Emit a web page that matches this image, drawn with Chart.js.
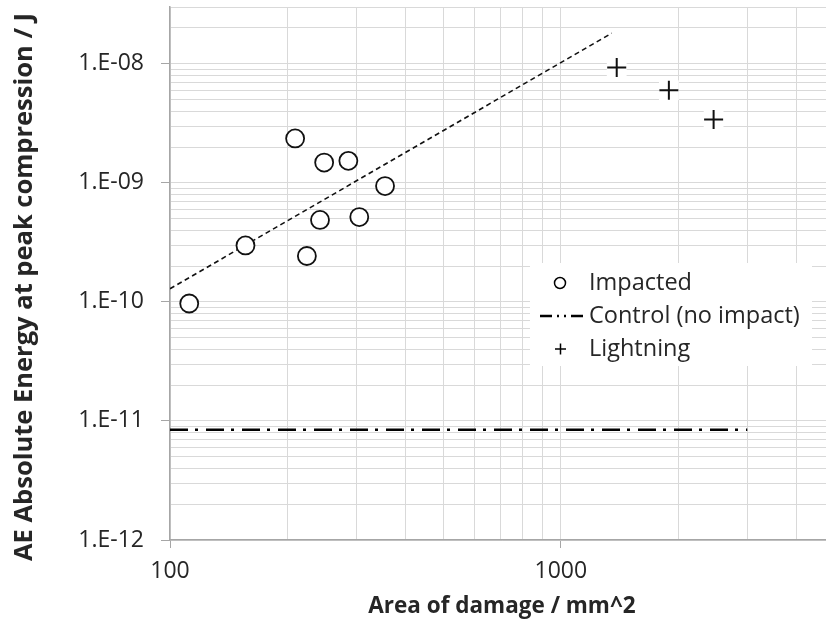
<!DOCTYPE html>
<html>
<head>
<meta charset="utf-8">
<script src="https://cdn.jsdelivr.net/npm/chart.js@4.4.1/dist/chart.umd.min.js"></script>
<style>
    html, body { margin: 0; padding: 0; background: #fff; overflow: hidden; }
    #wrap { width: 840px; height: 630px; }
</style>
</head>
<body>
<div id="wrap"><canvas id="aeChart"></canvas></div>
<script>
// Impacted samples
const impactedArea = [112, 156, 209, 224, 242, 248, 286, 305, 355];
const impactedEnergy = [9.7e-11, 2.98e-10, 2.36e-9, 2.43e-10, 4.88e-10, 1.48e-9, 1.53e-9, 5.16e-10, 9.4e-10];

// Lightning samples
const lightningArea = [1390, 1890, 2460];
const lightningEnergy = [9.3e-9, 6.0e-9, 3.4e-9];

// Control (no impact) level, drawn across 100..3000
const controlArea = [100, 3000];
const controlEnergy = [8.44e-12, 8.44e-12];

// Power trend line end points (impacted)
const trendArea = [100, 1350];
const trendEnergy = [1.29e-10, 1.81e-8];

const xRange = [100, 5000];
const yRange = [1e-12, 3e-8];

const FONT = '"Open Sans", "Liberation Sans", sans-serif';
const TEXT = '#262626';
const GRID = '#d9d9d9';
const AXIS = '#a6a6a6';

function pts(xs, ys) {
    return xs.map((x, i) => ({ x: x, y: ys[i] }));
}

function isDecade(v) {
    const l = Math.log10(v);
    return Math.abs(l - Math.round(l)) < 1e-9;
}

// ticks at 1..9 x 10^n, like Excel minor gridlines
function logTicks(min, max) {
    const out = [];
    for (let e = Math.floor(Math.log10(min)); e <= Math.ceil(Math.log10(max)); e++) {
        for (let k = 1; k <= 9; k++) {
            const v = parseFloat((k * Math.pow(10, e)).toPrecision(6));
            if (v >= min * 0.9999 && v <= max * 1.0001) out.push({ value: v, major: k === 1 });
        }
    }
    return out;
}

const legendPlugin = {
    id: 'boxLegend',
    afterDraw(chart) {
        const ctx = chart.ctx;
        const items = [
            { label: 'Impacted', type: 'circle' },
            { label: 'Control (no impact)', type: 'line' },
            { label: 'Lightning', type: 'cross' }
        ];
        ctx.save();
        ctx.fillStyle = '#fff';
        ctx.fillRect(530, 263, 282, 103);
        ctx.font = '23.5px ' + FONT;
        ctx.fillStyle = TEXT;
        ctx.textBaseline = 'middle';
        ctx.textAlign = 'left';
        items.forEach((it, i) => {
            const y = 283 + i * 33;
            ctx.strokeStyle = '#000';
            ctx.lineWidth = 1.5;
            if (it.type === 'circle') {
                ctx.beginPath();
                ctx.arc(560, y, 5.5, 0, Math.PI * 2);
                ctx.stroke();
            } else if (it.type === 'cross') {
                ctx.beginPath();
                ctx.moveTo(555, y); ctx.lineTo(566, y);
                ctx.moveTo(560.5, y - 5.5); ctx.lineTo(560.5, y + 5.5);
                ctx.stroke();
            } else {
                ctx.lineWidth = 2.5;
                ctx.setLineDash([12, 5, 2, 5, 2, 5]);
                ctx.beginPath();
                ctx.moveTo(540, y); ctx.lineTo(585, y);
                ctx.stroke();
                ctx.setLineDash([]);
            }
            ctx.fillText(it.label, 589, y);
        });
        ctx.restore();
    }
};

const yTitlePlugin = {
    id: 'yTitle',
    afterDraw(chart) {
        const ctx = chart.ctx;
        ctx.save();
        ctx.translate(25, 287);
        ctx.rotate(-Math.PI / 2);
        ctx.font = 'bold 25.5px ' + FONT;
        ctx.fillStyle = TEXT;
        ctx.textAlign = 'center';
        ctx.textBaseline = 'middle';
        ctx.fillText('AE Absolute Energy at peak compression / J', 0, 0);
        ctx.restore();
    }
};

new Chart(document.getElementById('aeChart'), {
    type: 'scatter',
    data: {
        datasets: [
            {
                label: 'Impacted',
                data: pts(impactedArea, impactedEnergy),
                pointStyle: 'circle',
                pointRadius: 9,
                borderWidth: 1.8,
                borderColor: '#111',
                backgroundColor: '#fff'
            },
            {
                label: 'Lightning',
                data: pts(lightningArea, lightningEnergy),
                pointStyle: 'cross',
                pointRadius: 9.5,
                borderWidth: 2,
                borderColor: '#111'
            },
            {
                label: 'Lightning backing',
                data: pts(lightningArea, lightningEnergy),
                pointStyle: 'rect',
                pointRadius: 14,
                borderWidth: 0,
                borderColor: '#fff',
                backgroundColor: '#fff'
            },
            {
                label: 'Trend',
                data: pts(trendArea, trendEnergy),
                showLine: true,
                pointRadius: 0,
                borderColor: '#111',
                borderWidth: 1.6,
                borderDash: [5, 3.5]
            },
            {
                label: 'Control (no impact)',
                data: pts(controlArea, controlEnergy),
                showLine: true,
                pointRadius: 0,
                borderColor: '#000',
                borderWidth: 2.6,
                borderDash: [18, 7, 3, 8]
            }
        ]
    },
    options: {
        responsive: true,
        maintainAspectRatio: false,
        animation: false,
        layout: { autoPadding: false, padding: { top: 7, right: 6, left: 0, bottom: 0 } },
        plugins: {
            legend: { display: false },
            tooltip: { enabled: false }
        },
        scales: {
            x: {
                type: 'logarithmic',
                min: xRange[0],
                max: xRange[1],
                afterFit: (s) => { s.height = 90; s.paddingLeft = 0; s.paddingRight = 0; },
                afterBuildTicks: (s) => { s.ticks = logTicks(xRange[0], xRange[1]); },
                border: { color: AXIS, width: 1.5 },
                grid: {
                    color: GRID,
                    tickLength: 8,
                    tickColor: (c) => (c.tick && isDecade(c.tick.value)) ? AXIS : 'rgba(0,0,0,0)'
                },
                ticks: {
                    autoSkip: false,
                    maxRotation: 0,
                    padding: 10,
                    color: TEXT,
                    font: { family: FONT, size: 23 },
                    callback: (v) => isDecade(v) ? String(Math.round(v)) : ''
                },
                title: {
                    display: true,
                    text: 'Area of damage / mm^2',
                    color: TEXT,
                    font: { family: FONT, size: 22.5, weight: 'bold' },
                    padding: { top: 0, bottom: 10 }
                }
            },
            y: {
                type: 'logarithmic',
                min: yRange[0],
                max: yRange[1],
                afterFit: (s) => { s.width = 170; s.paddingTop = 0; s.paddingBottom = 0; },
                afterBuildTicks: (s) => { s.ticks = logTicks(yRange[0], yRange[1]); },
                border: { color: AXIS, width: 1.5 },
                grid: {
                    color: GRID,
                    tickLength: 9,
                    tickColor: (c) => (c.tick && isDecade(c.tick.value)) ? AXIS : 'rgba(0,0,0,0)'
                },
                ticks: {
                    autoSkip: false,
                    padding: 17,
                    color: TEXT,
                    font: { family: FONT, size: 23 },
                    callback: (v) => isDecade(v) ? '1.E' + (Math.round(Math.log10(v)) < 0 ? '-' : '+') + String(Math.abs(Math.round(Math.log10(v)))).padStart(2, '0') : ''
                }
            }
        }
    },
    plugins: [legendPlugin, yTitlePlugin]
});
</script>
</body>
</html>
